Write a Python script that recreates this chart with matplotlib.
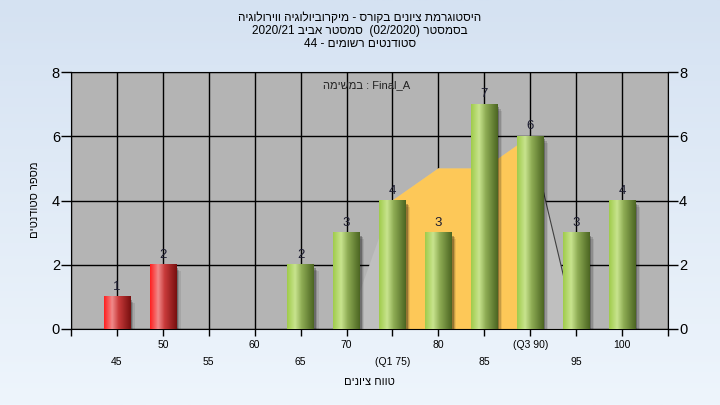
import re
import numpy as np
import matplotlib
matplotlib.use("Agg")
import matplotlib.pyplot as plt
from matplotlib.colors import LinearSegmentedColormap
from matplotlib.patches import Rectangle, Polygon

plt.rcParams['font.family'] = ['Liberation Sans', 'DejaVu Sans']

# data
bins = [45, 50, 55, 60, 65, 70, 75, 80, 85, 90, 95, 100]
counts = [1, 2, 0, 0, 2, 3, 4, 3, 7, 6, 3, 4]
fail_limit = 55
tick_labels = ['45', '50', '55', '60', '65', '70', '(Q1 75)', '80', '85', '(Q3 90)', '95', '100']
area_x = [70, 75, 80, 85, 90, 95]
area_y = [0, 4, 5, 5, 6, 0]
q1, q3 = 75, 90

title_lines = ["היסטוגרמת ציונים בקורס - מיקרוביולוגיה ווירולוגיה",
               "בסמסטר (02/2020)  סמסטר אביב 2020/21",
               "סטודנטים רשומים - 44"]
ylabel = "מספר סטודנטים"
xlabel = "טווח ציונים"
task_word = "במשימה"
task_name = "Final_A"


def heb(s):
    # crude visual reordering for right-to-left text
    parts = re.split(r'([A-Za-z0-9_/.]+)', s)
    out = []
    for p in reversed(parts):
        if re.fullmatch(r'[A-Za-z0-9_/.]+', p):
            out.append(p)
        else:
            r = p[::-1]
            r = r.replace('(', '\0').replace(')', '(').replace('\0', ')')
            out.append(r)
    return ''.join(out)


fig = plt.figure(figsize=(7.2, 4.05), dpi=100)

# background gradient
bg = fig.add_axes([0, 0, 1, 1], zorder=-10)
grad = np.linspace(0, 1, 256).reshape(-1, 1)
bg.imshow(grad, aspect='auto', extent=[0, 1, 0, 1],
          cmap=LinearSegmentedColormap.from_list('bg', ['#d5e2f2', '#eef5fc']))
bg.axis('off')

ax = fig.add_axes([71 / 720, 76 / 405, 597 / 720, 257 / 405])
ax.set_facecolor('#b4b4b4')
ax.set_xlim(40, 105)
ax.set_ylim(0, 8)
ax.set_axisbelow(True)
ax.grid(True, color='black', lw=1)
for sp in ax.spines.values():
    sp.set_color('black')

# distribution area and the Q1-Q3 band
ax.add_patch(Polygon(list(zip(area_x, area_y)), closed=True, facecolor='#bfbfbf',
                     edgecolor='none', zorder=1))
band = [(x, y) for x, y in zip(area_x, area_y) if q1 <= x <= q3]
band = [(q1, 0)] + band + [(q3, 0)]
ax.add_patch(Polygon(band, closed=True, facecolor='#fdc858', edgecolor='none', zorder=1.5))
ax.plot(area_x[-2:], area_y[-2:], color='#404040', lw=0.8, zorder=1.6)

green = LinearSegmentedColormap.from_list('g', [(0, '#a0cc4c'), (0.3, '#c8e48e'),
                                                (0.55, '#8eac54'), (1, '#4c6622')])
red = LinearSegmentedColormap.from_list('r', [(0, '#ff2020'), (0.3, '#f08a8a'),
                                              (0.55, '#c83a3a'), (1, '#781010')])
w = 2.9
hgrad = np.linspace(0, 1, 64).reshape(1, -1)
for b, c in zip(bins, counts):
    if c == 0:
        continue
    x0 = b - w / 2
    # soft shadow
    for k, a in enumerate([0.25, 0.15, 0.08]):
        ax.add_patch(Rectangle((x0 + w, -0.1), 0.2 + 0.15 * k, c - 0.05 * k,
                               facecolor='black', alpha=a, edgecolor='none', zorder=2))
    cmap = red if b < fail_limit else green
    ax.imshow(hgrad, aspect='auto', extent=[x0, x0 + w, 0, c], cmap=cmap, zorder=3)
    ax.text(b, c + 0.12, str(c), ha='center', va='bottom', fontsize=9.5,
            color='#1c1c30', zorder=4)

ax.set_xlim(40, 105)
ax.set_ylim(0, 8)
ax.set_xticks(range(40, 106, 5))
ax.set_xticklabels([])
ax.set_yticks([0, 2, 4, 6, 8])
ax.tick_params(axis='y', length=7, width=1, labelsize=10.5, right=True, labelright=True,
               colors='black', pad=1)
ax.tick_params(axis='x', length=5, width=1)

xt = ax.get_xaxis_transform()
for i, (b, lab) in enumerate(zip(bins, tick_labels)):
    yy = -0.062 if i % 2 == 1 else -0.128
    ax.text(b, yy, lab, transform=xt, ha='center', va='center', fontsize=7.5)
ax.text(72.5, -0.206, heb(xlabel), transform=xt, ha='center', va='center', fontsize=8)

fig.text(35 / 720, 1 - 200 / 405, heb(ylabel), rotation=90, ha='center', va='center',
         fontsize=8)

ax.text(72.2, 7.6, heb(task_word) + ' : ' + task_name, ha='center', va='center',
        fontsize=8, color='#222222', zorder=5)

for i, line in enumerate(title_lines):
    fig.text(0.5, 1 - (18 + 13 * i) / 405, heb(line), ha='center', va='center',
             fontsize=8.5)

fig.savefig('out.png', dpi=100)
